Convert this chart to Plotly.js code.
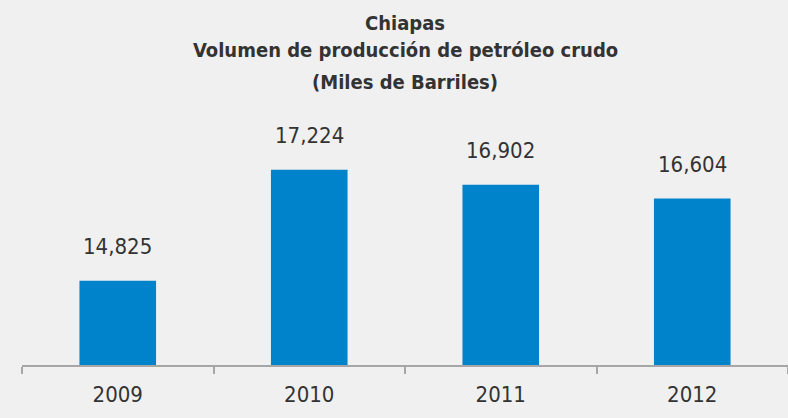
<!DOCTYPE html>
<html><head><meta charset="utf-8">
<script src="https://cdn.plot.ly/plotly-3.0.1.min.js"></script>
<style>body{margin:0;background:#f0f0f0}</style>
</head><body><div id="chart" style="width:788px;height:418px"></div>
<script>
const years = ['2009','2010','2011','2012'];
const values = [14825, 17224, 16902, 16604];
const valueLabels = ['14,825','17,224','16,902','16,604'];
const titleLines = ['Chiapas','Volumen de producción de petróleo crudo','(Miles de Barriles)'];

const fontFam = '"DejaVu Sans Condensed", "Liberation Sans Narrow", Arial, sans-serif';
const annotations = years.map((y,i)=>({
  x: i, y: values[i], xref:'x', yref:'y', text: valueLabels[i], showarrow:false,
  yanchor:'bottom', yshift: 20, font:{family:fontFam, size:22, color:'#333333'}
}));
const titleY = [23, 50, 82];
titleLines.forEach((t,i)=>{
  annotations.push({x:0.5, xref:'paper', y:(365-titleY[i])/231, yref:'paper', yanchor:'middle',
    text:'<b>'+t+'</b>', showarrow:false, font:{family:fontFam, size:20, color:'#333333'}});
});

Plotly.newPlot('chart', [{
  type:'bar', x: years, y: values, marker:{color:'#0083CA'}, width:0.4,
  hoverinfo:'none'
}], {
  width:788, height:418,
  margin:{l:22, r:0, t:134, b:53},
  paper_bgcolor:'#f0f0f0', plot_bgcolor:'#f0f0f0',
  showlegend:false,
  xaxis:{type:'category', categoryarray: years, range:[-0.5,3.5], autorange:false,
    showline:true, linecolor:'#a6a6a6', linewidth:2, tickangle:0,
    ticks:'outside', tickson:'boundaries', ticklen:7, tickwidth:2, tickcolor:'#a6a6a6',
    ticklabelstandoff:9,
    tickfont:{family:fontFam, size:22, color:'#333333'}, showgrid:false, zeroline:false},
  yaxis:{range:[13000,18000], autorange:false, visible:false, showgrid:false, zeroline:false},
  annotations: annotations
}, {displayModeBar:false, staticPlot:true});
</script></body></html>
